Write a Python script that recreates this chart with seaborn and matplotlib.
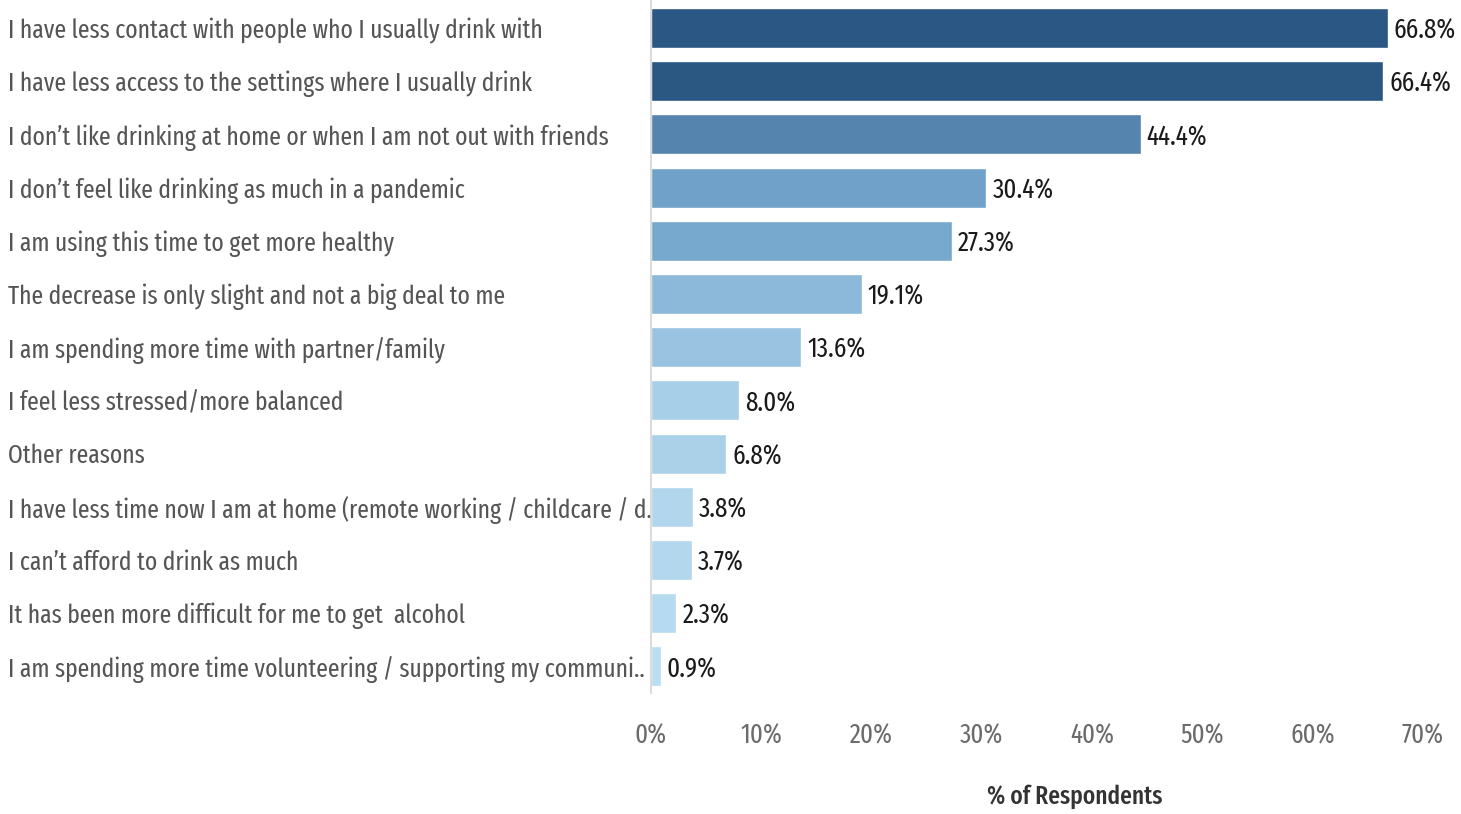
import matplotlib
matplotlib.use("Agg")
import matplotlib.pyplot as plt
import seaborn as sns
import pandas as pd
from matplotlib.colors import LinearSegmentedColormap, to_hex
from matplotlib import font_manager

categories = [
    "I have less contact with people who I usually drink with",
    "I have less access to the settings where I usually drink",
    "I don\u2019t like drinking at home or when I am not out with friends",
    "I don\u2019t feel like drinking as much in a pandemic",
    "I am using this time to get more healthy",
    "The decrease is only slight and not a big deal to me",
    "I am spending more time with partner/family",
    "I feel less stressed/more balanced",
    "Other reasons",
    "I have less time now I am at home (remote working / childcare / d..",
    "I can\u2019t afford to drink as much",
    "It has been more difficult for me to get  alcohol",
    "I am spending more time volunteering / supporting my communi..",
]
values = [66.8, 66.4, 44.4, 30.4, 27.3, 19.1, 13.6, 8.0, 6.8, 3.8, 3.7, 2.3, 0.9]
tick_values = [0, 10, 20, 30, 40, 50, 60, 70]
tick_labels = ["0%", "10%", "20%", "30%", "40%", "50%", "60%", "70%"]
x_title = "% of Respondents"

sns.set_theme(style="white")
names = {f.name for f in font_manager.fontManager.ttflist}
fam = next((f for f in ["Fira Sans Extra Condensed", "Fira Sans Condensed", "Roboto Condensed"] if f in names), "DejaVu Sans")
plt.rcParams["font.family"] = [fam, "DejaVu Sans"]

cmap = LinearSegmentedColormap.from_list(
    "tblue", [(0.0, "#b9ddf1"), (0.45, "#6fa1c9"), (1.0, "#2a5783")])
vmin, vmax = min(values), max(values)
palette = {c: to_hex(cmap((v - vmin) / (vmax - vmin))) for c, v in zip(categories, values)}

df = pd.DataFrame({"reason": categories, "pct": values})

fig = plt.figure(figsize=(14.61, 8.14), dpi=100)
renderer = fig.canvas.get_renderer()


def fit_size(s, target_px, weight="normal"):
    t = fig.text(0, 0, s, fontsize=20, fontweight=weight)
    w = t.get_window_extent(renderer).width
    t.remove()
    return 20 * target_px / w


cat_fs = fit_size(categories[0], 537)
tick_fs = fit_size("70%", 42)
val_fs = fit_size("66.8%", 62)
title_fs = fit_size(x_title, 175, "medium")

ax = fig.add_axes([651 / 1461, (814 - 693) / 814, (1434 - 651) / 1461, (693 - 1.4) / 814])

sns.barplot(data=df, y="reason", x="pct", hue="reason", palette=palette,
            order=categories, hue_order=categories, legend=False,
            width=0.75, saturation=1, ax=ax, orient="h")

ax.set_xlim(0, 71)
ax.set_xticks(tick_values)
ax.set_xticklabels(tick_labels, fontsize=tick_fs, color="#6b6b6b")
ax.tick_params(axis="x", length=9, width=1, color="#e8e8e8", pad=12, direction="out")
ax.tick_params(axis="y", length=0, pad=(651 - 8) / 1.389, labelsize=cat_fs, labelcolor="#555555")
for lbl in ax.get_yticklabels():
    lbl.set_ha("left")

for sp in ["top", "right", "bottom"]:
    ax.spines[sp].set_visible(False)
ax.spines["left"].set_color("#d4d4d4")
ax.spines["left"].set_linewidth(1.2)

for i, v in enumerate(values):
    ax.text(v + 0.55, i, f"{v:.1f}%", va="center_baseline", ha="left", fontsize=val_fs, color="#1a1a1a")

ax.set_ylabel("")
ax.set_xlabel(x_title, fontsize=title_fs, color="#333333", fontweight="medium")
ax.xaxis.set_label_coords((1075 - 651) / (1434 - 651), -(797 - 693) / (693 - 1.4))
ax.xaxis.label.set_va("center")

fig.savefig("out.png", dpi=100)
